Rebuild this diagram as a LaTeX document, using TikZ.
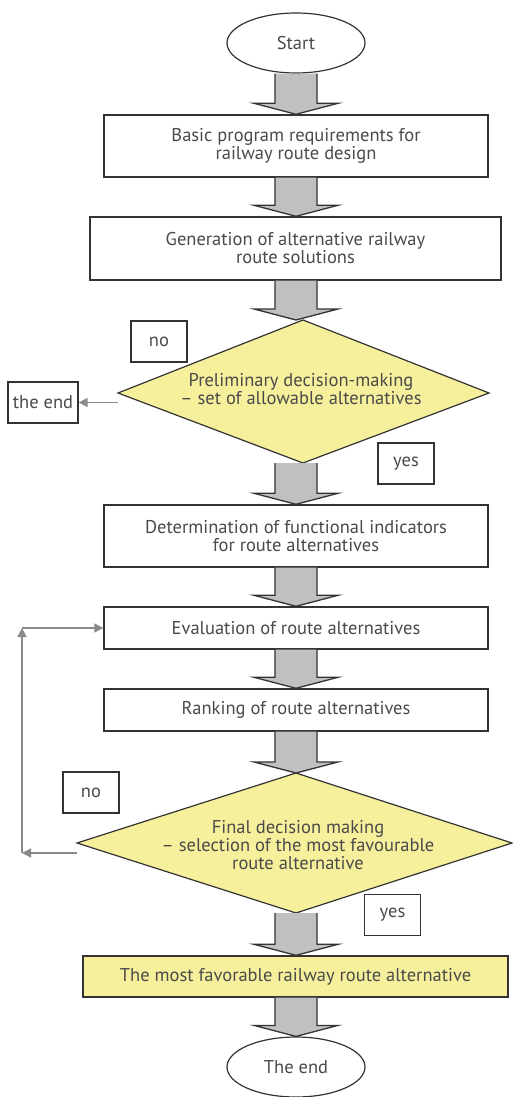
\documentclass[tikz,border=0pt]{standalone}
\usepackage{fontspec}
\setmainfont{PT Sans}
\usetikzlibrary{shapes.geometric,arrows.meta,calc}
\definecolor{ylw}{HTML}{F6F09C}
\definecolor{barfill}{HTML}{C0C0C0}
\definecolor{txt}{HTML}{4A4A4A}
\definecolor{edge}{HTML}{333333}
\definecolor{garr}{HTML}{8A8A8A}
\newcommand\blockarr[2]{%
  \draw[barrow] let \p1=(#1), \p2=(#2), \p3=(axis) in
    (\x3-21pt,\y1) -- (\x3-21pt,\y2+11pt) -- (\x3-42pt,\y2+11pt) -- (\x3,\y2)
    -- (\x3+42pt,\y2+11pt) -- (\x3+21pt,\y2+11pt) -- (\x3+21pt,\y1);}
\begin{document}
\begin{tikzpicture}[x=1pt,y=-1pt,
  every node/.style={text=txt, font=\fontsize{18.5}{18}\selectfont, align=center},
  box/.style={draw=edge, line width=1.4pt, fill=white, inner sep=0pt},
  term/.style={ellipse, draw=edge, line width=1.2pt, fill=white, minimum width=138pt, minimum height=60pt, inner sep=0pt},
  dec/.style={draw=edge, line width=1.2pt, fill=ylw, line join=miter},
  lbl/.style={draw=edge, line width=1.2pt, fill=white, minimum width=56pt, minimum height=41pt, inner sep=0pt},
  barrow/.style={draw=edge, line width=1.3pt, fill=barfill, line join=miter},
  garrow/.style={draw=garr, line width=1.4pt, -{Triangle[length=9pt,width=9pt]}}]
\useasboundingbox (0,0) rectangle (512,1097);
\coordinate (axis) at (296,0);
% decision shapes
\coordinate (d1n) at (303,320);
\coordinate (d1e) at (489,393);
\coordinate (d1s) at (303,463);
\coordinate (d1w) at (118,393);
\path[dec] (d1n) -- (d1e) -- (d1s) -- (d1w) -- cycle;
\coordinate (d2n) at (296,773);
\coordinate (d2e) at (512,843);
\coordinate (d2s) at (296,913);
\coordinate (d2w) at (77,843);
\path[dec] (d2n) -- (d2e) -- (d2s) -- (d2w) -- cycle;
\node[term] (start) at (296,43) {Start};
\node[box, minimum width=384pt, minimum height=62pt] (b1) at (296,146) {Basic program requirements for\\railway route design};
\node[box, minimum width=411pt, minimum height=63pt] (b2) at (295.5,248.5) {Generation of alternative railway\\route solutions};
\node (d1) at (301,389) {Preliminary decision-making\\– set of allowable alternatives};
\node[lbl] (no1) at (159,341.5) {no};
\node[lbl, minimum width=70pt] (theend) at (43,402.5) {the end};
\node[lbl] (yes1) at (406,463.5) {yes};
\node[box, minimum width=384pt, minimum height=62pt] (b4) at (296,536) {Determination of functional indicators\\for route alternatives};
\node[box, minimum width=384pt, minimum height=42pt] (b5) at (296,628) {Evaluation of route alternatives};
\node[box, minimum width=384pt, minimum height=42pt] (b6) at (296,710) {Ranking of route alternatives};
\node (d2) at (298,845) {Final decision making\\– selection of the most favourable\\route alternative};
\node[lbl] (no2) at (91,792.5) {no};
\node[lbl] (yes2) at (392.5,915) {yes};
\node[box, fill=ylw, minimum width=425pt, minimum height=41pt] (b8) at (295.5,976.5) {The most favorable railway route alternative};
\node[term] (stop) at (296,1067) {The end};
\blockarr{start.south}{b1.north}
\blockarr{b1.south}{b2.north}
\blockarr{b2.south}{d1n}
\blockarr{d1s}{b4.north}
\blockarr{b4.south}{b5.north}
\blockarr{b5.south}{b6.north}
\blockarr{b6.south}{d2n}
\blockarr{d2s}{b8.north}
\blockarr{b8.south}{stop.north}
\draw[garrow] (d1w |- theend.east) -- (theend.east);
\coordinate (c1) at (22,853);
\coordinate (c2) at (22,628);
\draw[garrow] (d2w |- c1) -- (c1);
\draw[garrow] (c1) -- (c2);
\draw[garrow] (c2) -- (b5.west);
\end{tikzpicture}
\end{document}
